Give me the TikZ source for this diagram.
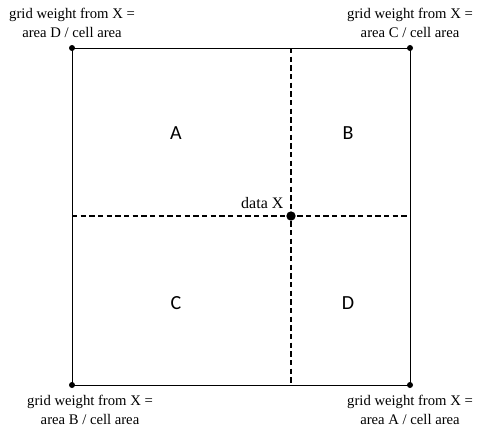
\documentclass[tikz,border=0pt]{standalone}
\usepackage{fontspec}
\setmainfont{Liberation Serif}
\newfontfamily\cellfont{Carlito}

\begin{document}
\begin{tikzpicture}[x=0.75pt,y=-0.75pt]
\tikzset{
  weight/.style={align=center,font=\fontsize{11}{14.5}\selectfont,inner sep=0pt},
  cellname/.style={font=\cellfont\fontsize{15}{18}\selectfont},
  corner/.style={circle,fill,inner sep=0pt,minimum size=4.5pt},
  grid/.style={dashed,line width=0.8pt,dash pattern=on 4pt off 2.5pt}
}
\useasboundingbox (0,0) rectangle (499,430);
% cell corners
\node[corner] (nw) at (72,48) {};
\node[corner] (ne) at (410,48) {};
\node[corner] (sw) at (72,385) {};
\node[corner] (se) at (410,385) {};
\draw[line width=0.6pt] (nw.center) -- (ne.center) -- (se.center) -- (sw.center) -- cycle;
% data point
\node[circle,fill,inner sep=0pt,minimum size=7pt] (x) at (291,216) {};
\coordinate (top) at (291,48);
\coordinate (bot) at (291,385);
\coordinate (lft) at (72,216);
\coordinate (rgt) at (410,216);
\draw[grid] (top) -- (bot);
\draw[grid] (lft) -- (rgt);
\node[font=\fontsize{12}{14}\selectfont,anchor=south east,inner sep=1pt] (lx) at (285,210) {data X};
% sub-areas
\node[cellname] (a) at (176,133) {A};
\node[cellname] (b) at (348,133) {B};
\node[cellname] (c) at (176,303) {C};
\node[cellname] (d) at (348,303) {D};
% weights
\node[weight] (wnw) at (72,23) {grid weight from X =\\area D / cell area};
\node[weight] (wne) at (410,23) {grid weight from X =\\area C / cell area};
\node[weight] (wsw) at (90,410) {grid weight from X =\\area B / cell area};
\node[weight] (wse) at (410,410) {grid weight from X =\\area A / cell area};
\end{tikzpicture}
\end{document}
